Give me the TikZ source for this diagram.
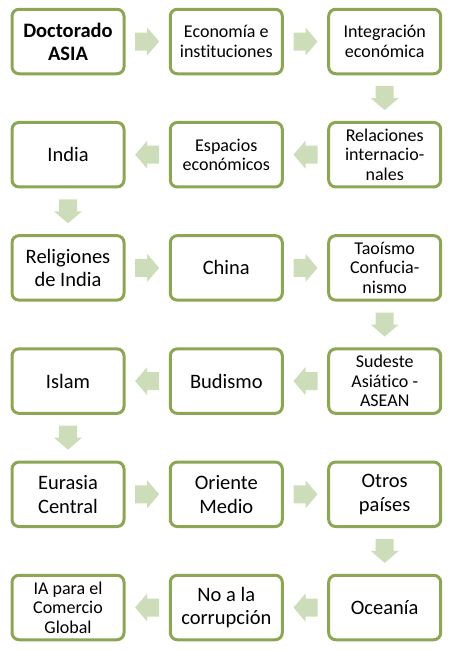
\documentclass[tikz,border=0pt]{standalone}
\usepackage{fontspec}
\setmainfont{Carlito}[Ligatures=NoCommon]
\usetikzlibrary{calc}
\definecolor{boxline}{RGB}{140,166,83}
\definecolor{arrowfill}{RGB}{205,221,186}
\tikzset{
  stagebox/.style={draw=boxline, line width=3pt, fill=white, rounded corners=7pt,
    minimum width=112pt, minimum height=64.5pt, inner sep=0pt, align=center, text=black},
  bigtxt/.style={font=\fontsize{20.5}{23.5}\selectfont},
  smalltxt/.style={font=\fontsize{18}{19.5}\selectfont},
  pics/blockarrow/.style={code={
    \fill[arrowfill] (-12,-9) -- (0,-9) -- (0,-14) -- (12,0) -- (0,14) -- (0,9) -- (-12,9) -- cycle;}}
}
\begin{document}
\begin{tikzpicture}[x=1pt,y=-1pt]
\useasboundingbox (0,0) rectangle (452,651);
% columns 68, 226.3, 384.7 ; rows 41.5,154.7,267.9,381.1,494.3,607.5
\node[stagebox, font=\fontsize{20.5}{23}\selectfont\bfseries] (n1) at (68,41.5) {Doctorado\\ASIA};
\node[stagebox, smalltxt] (n2) at (226.3,41.5) {Economía e\\instituciones};
\node[stagebox, smalltxt] (n3) at (384.7,41.5) {Integración\\económica};
\node[stagebox, smalltxt] (n4) at (384.7,154.7) {Relaciones\\internacio-\\nales};
\node[stagebox, smalltxt] (n5) at (226.3,154.7) {Espacios\\económicos};
\node[stagebox, bigtxt] (n6) at (68,154.7) {India};
\node[stagebox, bigtxt] (n7) at (68,267.9) {Religiones\\de India};
\node[stagebox, bigtxt] (n8) at (226.3,267.9) {China};
\node[stagebox, smalltxt] (n9) at (384.7,267.9) {Taoísmo\\Confucia-\\nismo};
\node[stagebox, smalltxt] (n10) at (384.7,381.1) {Sudeste\\Asiático -\\ASEAN};
\node[stagebox, bigtxt] (n11) at (226.3,381.1) {Budismo};
\node[stagebox, bigtxt] (n12) at (68,381.1) {Islam};
\node[stagebox, bigtxt] (n13) at (68,494.3) {Eurasia\\Central};
\node[stagebox, bigtxt] (n14) at (226.3,494.3) {Oriente\\Medio};
\node[stagebox, bigtxt] (n15) at (384.7,494.3) {Otros\\países};
\node[stagebox, bigtxt] (n16) at (384.7,607.5) {Oceanía};
\node[stagebox, bigtxt] (n17) at (226.3,607.5) {No a la\\corrupción};
\node[stagebox, smalltxt] (n18) at (68,607.5) {IA para el\\Comercio\\Global};
% arrows right
\path ($(n1.east)!0.5!(n2.west)$) pic {blockarrow};
\path ($(n2.east)!0.5!(n3.west)$) pic {blockarrow};
\path ($(n7.east)!0.5!(n8.west)$) pic {blockarrow};
\path ($(n8.east)!0.5!(n9.west)$) pic {blockarrow};
\path ($(n13.east)!0.5!(n14.west)$) pic {blockarrow};
\path ($(n14.east)!0.5!(n15.west)$) pic {blockarrow};
% arrows left
\path ($(n4.west)!0.5!(n5.east)$) pic[rotate=180] {blockarrow};
\path ($(n5.west)!0.5!(n6.east)$) pic[rotate=180] {blockarrow};
\path ($(n10.west)!0.5!(n11.east)$) pic[rotate=180] {blockarrow};
\path ($(n11.west)!0.5!(n12.east)$) pic[rotate=180] {blockarrow};
\path ($(n16.west)!0.5!(n17.east)$) pic[rotate=180] {blockarrow};
\path ($(n17.west)!0.5!(n18.east)$) pic[rotate=180] {blockarrow};
% arrows down
\path ($(n3.south)!0.5!(n4.north)$) pic[rotate=-90] {blockarrow};
\path ($(n6.south)!0.5!(n7.north)$) pic[rotate=-90] {blockarrow};
\path ($(n9.south)!0.5!(n10.north)$) pic[rotate=-90] {blockarrow};
\path ($(n12.south)!0.5!(n13.north)$) pic[rotate=-90] {blockarrow};
\path ($(n15.south)!0.5!(n16.north)$) pic[rotate=-90] {blockarrow};
\end{tikzpicture}
\end{document}
